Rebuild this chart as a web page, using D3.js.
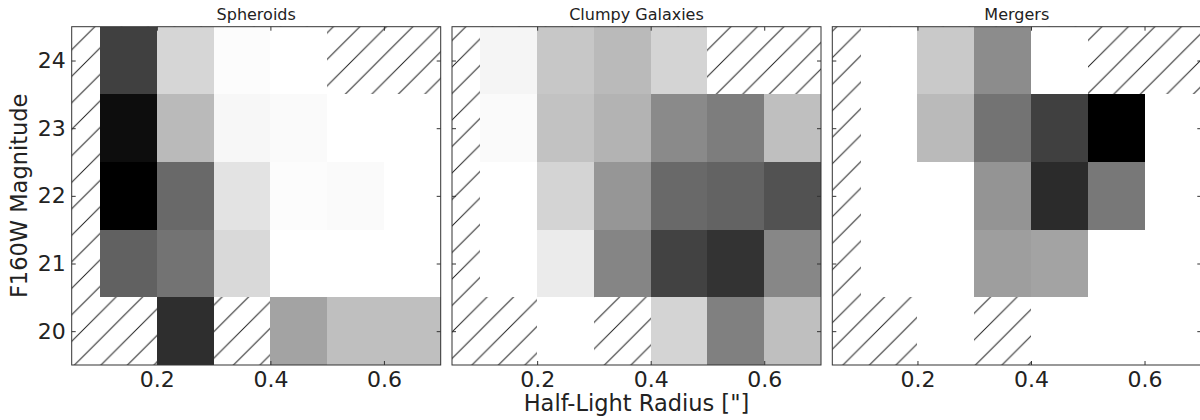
<!doctype html>
<html lang="en">
<head>
	<meta charset="utf-8">
	<title>Size-magnitude distributions</title>
	<style>
		body { margin: 0; background: #fff; }
		svg { display: block; font-family: "DejaVu Sans", sans-serif; }
	</style>
</head>
<body>
	<svg id="Chart" width="1200" height="420"></svg>

	<script src="https://cdn.jsdelivr.net/npm/d3@7/dist/d3.min.js"></script>
	<script>
		// bin edges along the half-light radius, bin centres along magnitude (top row first)
		var radiusEdges = [0.1, 0.2, 0.3, 0.4, 0.5, 0.6, 0.7];
		var magnitudeRows = [24, 23, 22, 21, 20];
		var xTicks = [0.2, 0.4, 0.6];
		var yTicks = [20, 21, 22, 23, 24];
		var panelTitles = ["Spheroids", "Clumpy Galaxies", "Mergers"];

		// relative density per cell, null = empty bin (hatched)
		var spheroids = [
			[0.75, 0.16, 0.01, 0.00, null, null],
			[0.95, 0.27, 0.03, 0.02, 0.00, 0.00],
			[1.00, 0.59, 0.11, 0.01, 0.02, 0.00],
			[0.62, 0.55, 0.15, 0.00, 0.00, 0.00],
			[null, 0.82, null, 0.36, 0.25, 0.25]
		];
		var clumpy = [
			[0.04, 0.22, 0.27, 0.17, null, null],
			[0.02, 0.24, 0.30, 0.46, 0.51, 0.25],
			[0.00, 0.17, 0.41, 0.59, 0.61, 0.68],
			[0.00, 0.08, 0.48, 0.74, 0.80, 0.47],
			[null, 0.00, null, 0.17, 0.50, 0.25]
		];
		var mergers = [
			[0.00, 0.21, 0.45, 0.00, null, null],
			[0.00, 0.27, 0.55, 0.75, 1.00, 0.00],
			[0.00, 0.00, 0.42, 0.83, 0.53, 0.00],
			[0.00, 0.00, 0.38, 0.36, 0.00, 0.00],
			[null, 0.00, null, 0.00, 0.00, 0.00]
		];
		var panels = [spheroids, clumpy, mergers];

		(function () {
			"use strict";

			var svg = d3.select("#Chart");
			var W = 369, H = 338.3, top = 26.7, left0 = 71.7, step = 380.3;

			var x = d3.scaleLinear([0.05, 0.7], [0, W]),
				y = d3.scaleLinear([19.5, 24.5], [H, 0]),
				gray = d3.scaleLinear([0, 1], ["#ffffff", "#000000"]);

			var defs = svg.append("defs");
			var P = 26.5;

			panels.forEach(function (grid, i) {
				var ox = left0 + i * step;
				var g = svg.append("g").attr("transform", "translate(" + ox + "," + top + ")");

				// hatch for empty bins, phase kept in page space like matplotlib
				defs.append("pattern")
					.attr("id", "hatch" + i)
					.attr("patternUnits", "userSpaceOnUse")
					.attr("x", 15.5 - ox - top).attr("y", 0)
					.attr("width", P).attr("height", P)
					.append("path")
						.attr("d", "M0," + P + "L" + P + ",0M-2,2L2,-2M" + (P - 2) + "," + (P + 2) + "L" + (P + 2) + "," + (P - 2))
						.attr("stroke", "#222")
						.attr("stroke-width", 1);

				g.append("rect")
					.attr("width", W).attr("height", H)
					.attr("fill", "url(#hatch" + i + ")");

				var cells = [];
				grid.forEach(function (row, r) {
					row.forEach(function (v, c) {
						if (v !== null) cells.push({ r: r, c: c, v: v });
					});
				});

				g.selectAll("rect.cell")
					.data(cells)
					.join("rect")
						.attr("class", "cell")
						.attr("x", function (d) { return x(radiusEdges[d.c]); })
						.attr("width", function (d) { return x(radiusEdges[d.c + 1]) - x(radiusEdges[d.c]); })
						.attr("y", function (d) { return y(magnitudeRows[d.r] + 0.5); })
						.attr("height", function (d) { return y(magnitudeRows[d.r] - 0.5) - y(magnitudeRows[d.r] + 0.5); })
						.attr("fill", function (d) { return gray(d.v); })
						.attr("shape-rendering", "crispEdges");

				// inward ticks on all four sides
				var axes = [
					{ a: d3.axisBottom(x).tickValues(xTicks).tickFormat(d3.format(".1f")), t: "translate(0," + H + ")" },
					{ a: d3.axisTop(x).tickValues(xTicks).tickFormat(""), t: null },
					{ a: d3.axisLeft(y).tickValues(yTicks).tickFormat(i === 0 ? d3.format("d") : ""), t: null },
					{ a: d3.axisRight(y).tickValues(yTicks).tickFormat(""), t: "translate(" + W + ",0)" }
				];
				axes.forEach(function (o) {
					var ax = g.append("g").attr("transform", o.t)
						.call(o.a.tickSizeInner(-4).tickSizeOuter(0).tickPadding(6));
					ax.select(".domain").remove();
					ax.selectAll("line").attr("stroke", "#333");
					ax.selectAll("text").attr("font-size", 22).attr("fill", "#222")
						.attr("font-family", "DejaVu Sans, sans-serif");
				});

				g.append("rect")
					.attr("width", W).attr("height", H)
					.attr("fill", "none").attr("stroke", "#333").attr("stroke-width", 1);

				g.append("text")
					.attr("x", W / 2).attr("y", -7)
					.attr("text-anchor", "middle")
					.attr("font-size", 16).attr("fill", "#222")
					.text(panelTitles[i]);
			});

			svg.append("text")
				.attr("transform", "translate(27," + (top + H / 2) + ") rotate(-90)")
				.attr("text-anchor", "middle")
				.attr("font-size", 22.5).attr("fill", "#222")
				.text("F160W Magnitude");

			svg.append("text")
				.attr("x", left0 + step + W / 2).attr("y", 411)
				.attr("text-anchor", "middle")
				.attr("font-size", 22.5).attr("fill", "#222")
				.text("Half-Light Radius [\"]");
		})();
	</script>
</body>
</html>
